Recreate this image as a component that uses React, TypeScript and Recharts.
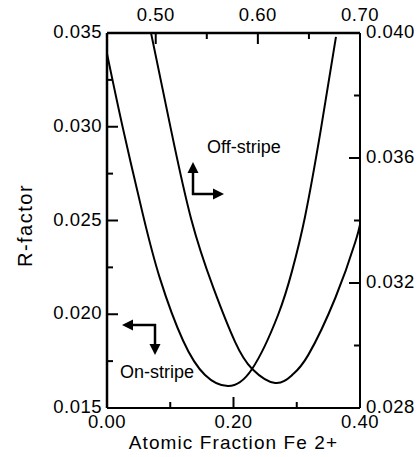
import { LineChart, Line, XAxis, YAxis } from "recharts";

// on-stripe curve: bottom x axis / left R-factor axis
const onStripeFraction = [0, 0.0253, 0.0569, 0.0838, 0.1202, 0.155, 0.1913, 0.2293, 0.2704, 0.2925, 0.313, 0.338, 0.362];
const onStripeR = [0.0339, 0.0299, 0.0253, 0.0219, 0.0186, 0.01676, 0.01617, 0.01708, 0.01996, 0.0223, 0.02519, 0.02983, 0.03479];

// off-stripe curve: top x axis / right R-factor axis
const offStripeFraction = [0.4954, 0.515, 0.5347, 0.5562, 0.5778, 0.5945, 0.617, 0.6337, 0.6494, 0.6758, 0.6954, 0.7003];
const offStripeR = [0.04, 0.0369, 0.03405, 0.03187, 0.03011, 0.02925, 0.0288, 0.02906, 0.0297, 0.03152, 0.03331, 0.03392];

const bottomTicks = [0, 0.1, 0.2, 0.3, 0.4];
const bottomLabels = ["0.00", "", "0.20", "", "0.40"];
const leftTicks = [0.015, 0.0175, 0.02, 0.0225, 0.025, 0.0275, 0.03, 0.0325, 0.035];
const leftLabels = ["0.015", "", "0.020", "", "0.025", "", "0.030", "", "0.035"];
const topTicks = [0.5, 0.55, 0.6, 0.65, 0.7];
const topLabels = ["0.50", "", "0.60", "", "0.70"];
const rightTicks = [0.028, 0.03, 0.032, 0.034, 0.036, 0.038, 0.04];
const rightLabels = ["0.028", "", "0.032", "", "0.036", "", "0.040"];

const onStripeData = onStripeFraction.map((x, i) => ({ x, y: onStripeR[i] }));
const offStripeData = offStripeFraction.map((x, i) => ({ x, y: offStripeR[i] }));

const FONT = "'Liberation Sans', Arial, Helvetica, sans-serif";
const MAJOR = 11;
const MINOR = 6;

const makeTick = (side: "bottom" | "top" | "left" | "right", labels: string[]) => (props: any) => {
  const { x, y, index } = props;
  const label = labels[index];
  const len = label ? MAJOR : MINOR;
  let line;
  let text = null;
  if (side === "bottom") {
    line = <line x1={x} y1={y} x2={x} y2={y - len} />;
    if (label) text = <text x={x} y={y + 20} textAnchor="middle">{label}</text>;
  } else if (side === "top") {
    line = <line x1={x} y1={y} x2={x} y2={y + len} />;
    if (label) text = <text x={x} y={y - 12} textAnchor="middle">{label}</text>;
  } else if (side === "left") {
    line = <line x1={x} y1={y} x2={x + len} y2={y} />;
    if (label) text = <text x={x - 5} y={y + 5} textAnchor="end">{label}</text>;
  } else {
    line = <line x1={x} y1={y} x2={x - len} y2={y} />;
    if (label) text = <text x={x + 6} y={y + 5} textAnchor="start">{label}</text>;
  }
  return (
    <g stroke="#000" strokeWidth={2} fill="#000" fontSize={18.5} fontFamily={FONT} letterSpacing={0.5}>
      {line}
      {text && <g stroke="none">{text}</g>}
    </g>
  );
};

const RFactorLabel = (props: any) => {
  const { x, y, height } = props.viewBox;
  const cx = x + 25;
  const cy = y + height / 2 + 5;
  return (
    <text x={cx} y={cy} transform={`rotate(-90 ${cx} ${cy})`} textAnchor="middle" dominantBaseline="central"
      fontSize={20} fontFamily={FONT} fill="#000" letterSpacing={1.5}>
      R-factor
    </text>
  );
};

const Arrow = ({ x1, y1, x2, y2 }: { x1: number; y1: number; x2: number; y2: number }) => {
  const a = Math.atan2(y2 - y1, x2 - x1);
  const L = 11, W = 5.5;
  const bx = x2 - L * Math.cos(a), by = y2 - L * Math.sin(a);
  const px = -Math.sin(a) * W, py = Math.cos(a) * W;
  return (
    <g>
      <line x1={x1} y1={y1} x2={bx} y2={by} stroke="#000" strokeWidth={2.5} />
      <polygon points={`${x2},${y2} ${bx + px},${by + py} ${bx - px},${by - py}`} fill="#000" />
    </g>
  );
};

export default function App() {
  return (
    <div style={{ position: "absolute", left: 0, top: 0, width: 419, height: 457, background: "#fff" }}>
      <LineChart width={419} height={457} margin={{ top: 0, right: 0, bottom: 0, left: 0 }}>
        <XAxis
          xAxisId="bottom"
          orientation="bottom"
          type="number"
          dataKey="x"
          domain={[0, 0.4]}
          allowDataOverflow
          ticks={bottomTicks}
          interval={0}
          height={49}
          tickSize={0}
          tickMargin={0}
          tickLine={false}
          axisLine={{ stroke: "#000", strokeWidth: 2 }}
          tick={makeTick("bottom", bottomLabels)}
          label={{ value: "Atomic Fraction Fe 2+", position: "insideBottom", offset: 8, fill: "#000", fontSize: 19, fontFamily: FONT, letterSpacing: 1.1 }}
        />
        <XAxis
          xAxisId="top"
          orientation="top"
          type="number"
          dataKey="x"
          domain={[0.4523, 0.7]}
          allowDataOverflow
          ticks={topTicks}
          interval={0}
          height={33}
          tickSize={0}
          tickMargin={0}
          tickLine={false}
          axisLine={{ stroke: "#000", strokeWidth: 2.5 }}
          tick={makeTick("top", topLabels)}
        />
        <YAxis
          yAxisId="left"
          orientation="left"
          type="number"
          domain={[0.015, 0.035]}
          allowDataOverflow
          ticks={leftTicks}
          interval={0}
          width={107}
          tickSize={0}
          tickMargin={0}
          tickLine={false}
          axisLine={{ stroke: "#000", strokeWidth: 2.5 }}
          tick={makeTick("left", leftLabels)}
          label={RFactorLabel}
        />
        <YAxis
          yAxisId="right"
          orientation="right"
          type="number"
          domain={[0.028, 0.04]}
          allowDataOverflow
          ticks={rightTicks}
          interval={0}
          width={59}
          tickSize={0}
          tickMargin={0}
          tickLine={false}
          axisLine={{ stroke: "#000", strokeWidth: 2 }}
          tick={makeTick("right", rightLabels)}
        />
        <Line
          data={onStripeData}
          xAxisId="bottom"
          yAxisId="left"
          dataKey="y"
          type="natural"
          stroke="#000"
          strokeWidth={2}
          dot={false}
          isAnimationActive={false}
        />
        <Line
          data={offStripeData}
          xAxisId="top"
          yAxisId="right"
          dataKey="y"
          type="natural"
          stroke="#000"
          strokeWidth={2}
          dot={false}
          isAnimationActive={false}
        />
      </LineChart>
      <svg width={419} height={457} style={{ position: "absolute", left: 0, top: 0, pointerEvents: "none" }}>
        <text x={207} y={153} fontSize={18} fontFamily={FONT} fill="#000">Off-stripe</text>
        <Arrow x1={193} y1={195} x2={193} y2={162} />
        <Arrow x1={192} y1={194} x2={224} y2={194} />
        <text x={120} y={378} fontSize={18} fontFamily={FONT} fill="#000">On-stripe</text>
        <Arrow x1={156} y1={325} x2={122} y2={325} />
        <Arrow x1={155} y1={324} x2={155} y2={355} />
      </svg>
    </div>
  );
}
